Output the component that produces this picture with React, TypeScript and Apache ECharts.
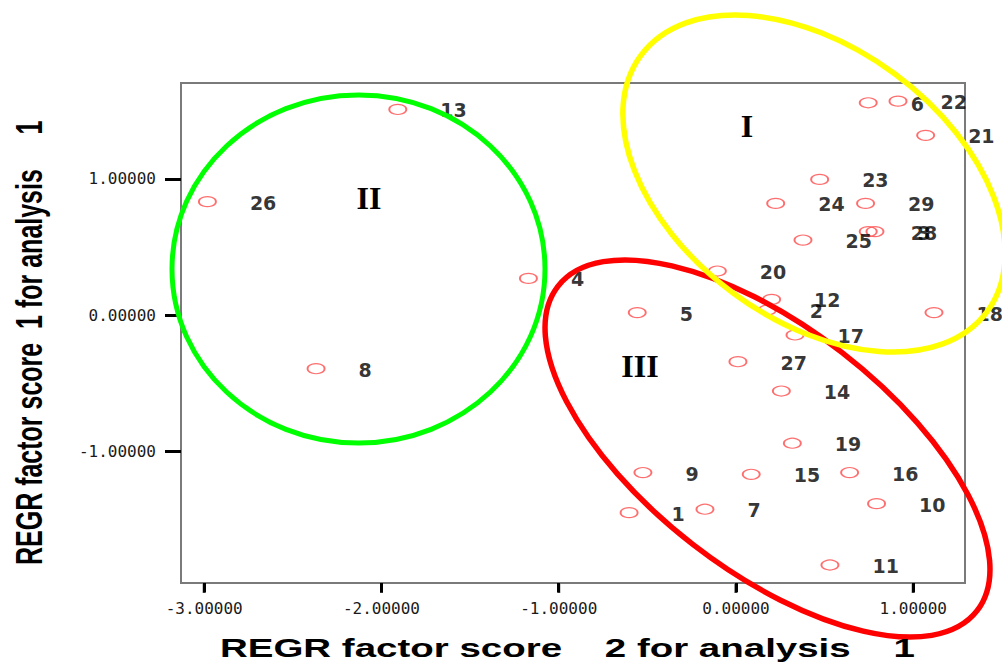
import { useEffect, useRef } from "react";
import * as echarts from "echarts";

// Case numbers and REGR factor scores (x = factor score 2, y = factor score 1)
const caseIds = [
  "1", "2", "3", "4", "5", "6", "7", "8", "9", "10",
  "11", "12", "13", "14", "15", "16", "17", "18", "19", "20",
  "21", "22", "23", "24", "25", "26", "27", "28", "29",
];
const factor2 = [
  -0.603, 0.177, 0.784, -1.171, -0.557, 0.746, -0.175, -2.369, -0.525, 0.793,
  0.53, 0.201, -1.908, 0.256, 0.086, 0.641, 0.333, 1.117, 0.318, -0.105,
  1.07, 0.914, 0.472, 0.224, 0.378, -2.982, 0.011, 0.746, 0.731,
];
const factor1 = [
  -1.447, 0.039, 0.614, 0.271, 0.02, 1.559, -1.422, -0.391, -1.153, -1.381,
  -1.831, 0.117, 1.51, -0.555, -1.166, -1.153, -0.144, 0.02, -0.938, 0.325,
  1.32, 1.571, 0.997, 0.821, 0.552, 0.834, -0.34, 0.614, 0.821,
];
const xTicks = [-3, -2, -1, 0, 1];
const yTicks = [-1, 0, 1];
const xTitle =
  "REGR factor score\u00a0\u00a0\u00a0\u00a02 for analysis\u00a0\u00a0\u00a0\u00a01";
const yTitle =
  "REGR factor score\u00a0\u00a01 for analysis\u00a0\u00a0\u00a0\u00a0\u00a01";
const clusterNames = ["I", "II", "III"];

const X_MIN = -3.131;
const X_MAX = 1.292;
const Y_MIN = -1.963;
const Y_MAX = 1.704;

export default function App() {
  const ref = useRef<HTMLDivElement>(null);

  useEffect(() => {
    document.body.style.margin = "0";
    const chart = echarts.init(ref.current!, null, { renderer: "svg" });
    const data = caseIds.map((id, i) => ({ name: id, value: [factor2[i], factor1[i]] }));
    const tickMarks = xTicks.map((v) => [v, Y_MIN]);
    const deg = Math.PI / 180;

    const textStyle = (text: string, font: any) => ({
      text,
      fill: "#000",
      ...font,
    });

    const romanFont = {
      fontFamily: "Liberation Serif",
      fontWeight: "bold",
      fontSize: 32,
      align: "center",
      verticalAlign: "middle",
      textAlign: "center",
      textVerticalAlign: "middle",
    };

    chart.setOption({
      animation: false,
      backgroundColor: "#ffffff",
      grid: {
        left: 181,
        top: 83,
        width: 784,
        height: 500,
        show: true,
        borderColor: "#7a7a7a",
        borderWidth: 2,
      },
      xAxis: {
        type: "value",
        min: X_MIN,
        max: X_MAX,
        splitLine: { show: false },
        axisLine: { show: true, onZero: false, lineStyle: { color: "#7a7a7a", width: 2 } },
        axisTick: {
          show: true,
          customValues: xTicks,
          length: 9,
          lineStyle: { color: "#000000", width: 3 },
        },
        axisLabel: {
          customValues: xTicks,
          formatter: (v: number) => v.toFixed(5),
          margin: 17,
          fontFamily: "DejaVu Sans Mono",
          fontSize: 16,
          color: "#1a1a1a",
        },
      },
      yAxis: {
        type: "value",
        min: Y_MIN,
        max: Y_MAX,
        splitLine: { show: false },
        axisLine: { show: true, onZero: false, lineStyle: { color: "#7a7a7a", width: 2 } },
        axisTick: {
          show: true,
          customValues: yTicks,
          length: 16,
          lineStyle: { color: "#000000", width: 3 },
        },
        axisLabel: {
          customValues: yTicks,
          formatter: (v: number) => v.toFixed(5),
          margin: 25,
          fontFamily: "DejaVu Sans Mono",
          fontSize: 16,
          color: "#1a1a1a",
        },
      },
      series: [
        {
          type: "scatter",
          data,
          symbol: "circle",
          symbolSize: [17, 10],
          itemStyle: {
            color: "rgba(255,255,255,0)",
            borderColor: "#ff4a4a",
            borderWidth: 1.5,
          },
          label: {
            show: true,
            position: "right",
            distance: 33,
            formatter: "{b}",
            fontFamily: "DejaVu Sans",
            fontWeight: "bold",
            fontSize: 19,
            color: "#000",
            offset: [0, 1],
          },
          z: 2,
        },
        {
          // tick marks under the x axis, placed by the axis scale
          type: "scatter",
          data: tickMarks,
          symbol: "rect",
          symbolSize: [3, 9],
          symbolOffset: [0, 5.5],
          itemStyle: { color: "#000000" },
          silent: true,
          clip: false,
          label: { show: false },
          z: 3,
        },
      ],
      graphic: {
        elements: [
          {
            type: "ellipse",
            x: 358.5,
            y: 269,
            shape: { cx: 0, cy: 0, rx: 186.5, ry: 174 },
            style: { fill: "none", stroke: "#00ff00", lineWidth: 5 },
            z: 100,
          },
          {
            type: "ellipse",
            x: 767.5,
            y: 448.5,
            rotation: -37.7 * deg,
            shape: { cx: 0, cy: 0, rx: 265, ry: 121.5 },
            style: { fill: "none", stroke: "#ff0000", lineWidth: 5.5 },
            z: 100,
          },
          {
            type: "ellipse",
            x: 814,
            y: 183.5,
            rotation: -36.5 * deg,
            shape: { cx: 0, cy: 0, rx: 215.3, ry: 136.1 },
            style: { fill: "none", stroke: "#ffff00", lineWidth: 5.5 },
            z: 101,
          },
          {
            type: "text",
            x: 747,
            y: 126,
            z: 102,
            style: textStyle(clusterNames[0], romanFont),
          },
          {
            type: "text",
            x: 369,
            y: 198,
            z: 102,
            style: textStyle(clusterNames[1], romanFont),
          },
          {
            type: "text",
            x: 640,
            y: 366,
            z: 102,
            style: textStyle(clusterNames[2], romanFont),
          },
          {
            type: "text",
            x: 220,
            y: 648,
            scaleX: 1.48,
            z: 102,
            style: textStyle(xTitle, {
              fontFamily: "Liberation Sans",
              fontWeight: "bold",
              fontSize: 26,
              align: "left",
              verticalAlign: "middle",
              textAlign: "left",
              textVerticalAlign: "middle",
            }),
          },
          {
            type: "text",
            x: 29,
            y: 565,
            rotation: Math.PI / 2,
            scaleY: 1.5,
            z: 102,
            style: textStyle(yTitle, {
              fontFamily: "Liberation Sans",
              fontWeight: "bold",
              fontSize: 25,
              align: "left",
              verticalAlign: "middle",
              textAlign: "left",
              textVerticalAlign: "middle",
            }),
          },
        ],
      },
    });

    return () => chart.dispose();
  }, []);

  return <div ref={ref} style={{ width: 1002, height: 662 }} />;
}
